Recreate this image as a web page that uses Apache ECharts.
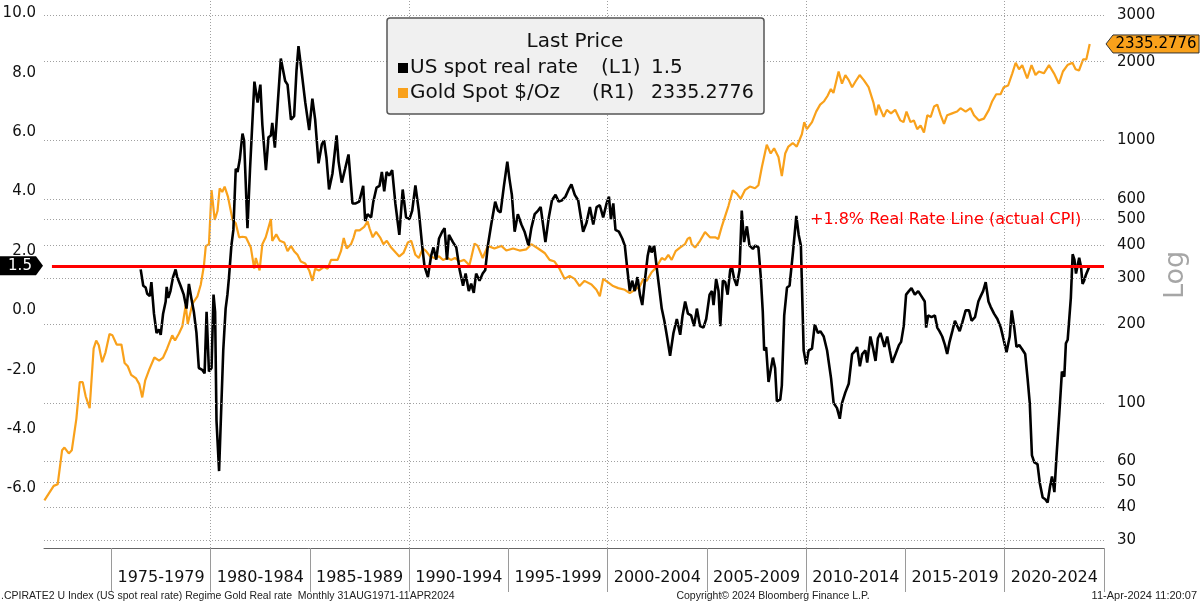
<!DOCTYPE html>
<html><head><meta charset="utf-8">
<script src="https://cdn.jsdelivr.net/npm/echarts@6/dist/echarts.min.js"></script>
<style>html,body{margin:0;padding:0;background:#fff}#c{width:1200px;height:603px}</style>
</head><body><div id="c"></div>
<script>
// Gold spot $/oz (right, log axis): [decimal year, price]
const goldData = [
[1971.62,42.5],[1972.09,48.3],[1972.29,49],[1972.51,66],[1972.63,67.6],[1972.85,64.2],[1973.0,66],[1973.23,87],[1973.4,120],[1973.55,120],[1973.7,106],[1973.9,95.5],
[1974.1,161],[1974.23,173],[1974.36,166],[1974.53,143],[1974.7,156],[1974.9,183],[1975.05,181],[1975.26,167],[1975.5,167],[1975.66,142],[1975.82,138],[1975.99,128],
[1976.24,124],[1976.4,118],[1976.55,105],[1976.7,122],[1976.9,134],[1977.16,149],[1977.4,145],[1977.6,149],[1977.8,161],[1978.06,181],[1978.2,173],[1978.4,184],
[1978.57,196],[1978.74,236],[1978.84,200],[1979.08,239],[1979.33,255],[1979.5,283],[1979.66,335],[1979.75,396],[1979.91,403],[1980.04,647],[1980.2,499],[1980.34,539],
[1980.45,658],[1980.58,637],[1980.7,668],[1980.87,610],[1981.1,499],[1981.26,484],[1981.43,428],[1981.6,430],[1981.77,428],[1982.02,391],[1982.19,325],[1982.27,357],
[1982.46,320],[1982.6,403],[1982.77,428],[1983.03,502],[1983.1,415],[1983.3,439],[1983.48,415],[1983.7,409],[1983.87,379],[1984.04,397],[1984.2,379],[1984.37,367],
[1984.54,346],[1984.76,340],[1984.96,320],[1985.12,292],[1985.26,325],[1985.46,320],[1985.71,330],[1985.89,325],[1986.06,351],[1986.39,351],[1986.56,379],[1986.7,425],
[1986.85,388],[1987.07,403],[1987.2,428],[1987.3,455],[1987.5,455],[1987.73,469],[1987.9,492],[1988.0,463],[1988.16,428],[1988.33,449],[1988.53,428],[1988.7,403],
[1988.87,415],[1989.09,391],[1989.34,373],[1989.5,362],[1989.71,373],[1989.93,409],[1990.1,415],[1990.31,367],[1990.48,357],[1990.69,388],[1990.85,379],[1991.05,362],
[1991.27,357],[1991.5,362],[1991.7,351],[1991.94,357],[1992.1,351],[1992.3,357],[1992.53,346],[1992.77,351],[1993.03,335],[1993.12,357],[1993.29,405],[1993.45,397],
[1993.7,357],[1993.96,397],[1994.29,388],[1994.64,397],[1994.89,381],[1995.23,388],[1995.56,381],[1995.9,385],[1996.15,403],[1996.49,388],[1996.82,373],[1997.07,351],
[1997.32,346],[1997.57,325],[1997.83,297],[1998.08,305],[1998.33,297],[1998.58,279],[1998.83,292],[1999.18,283],[1999.43,270],[1999.6,255],[1999.77,297],[2000.02,288],
[2000.27,279],[2000.53,274],[2000.86,270],[2001.11,262],[2001.36,270],[2001.62,279],[2001.79,297],[2001.96,292],[2002.21,315],[2002.46,330],[2002.72,357],[2002.88,351],
[2003.05,367],[2003.22,351],[2003.42,379],[2003.64,391],[2003.89,403],[2004.02,422],[2004.14,428],[2004.23,403],[2004.4,391],[2004.65,415],[2004.9,448],[2005.15,428],
[2005.41,428],[2005.57,422],[2005.74,469],[2005.91,514],[2006.08,563],[2006.3,647],[2006.5,628],[2006.7,600],[2006.91,647],[2007.16,668],[2007.42,658],[2007.59,676],
[2007.76,790],[2008.01,964],[2008.21,893],[2008.38,935],[2008.6,866],[2008.77,732],[2008.94,893],[2009.1,949],[2009.32,979],[2009.52,949],[2009.78,1057],[2009.9,1176],
[2010.03,1106],[2010.29,1176],[2010.5,1290],[2010.7,1371],[2010.9,1413],[2011.07,1479],[2011.24,1573],[2011.37,1520],[2011.63,1834],[2011.8,1648],[2011.97,1778],[2012.14,1700],
[2012.31,1598],[2012.48,1680],[2012.69,1778],[2012.9,1700],[2013.14,1598],[2013.39,1392],[2013.52,1250],[2013.64,1371],[2013.9,1231],[2014.06,1310],[2014.27,1270],[2014.48,1310],
[2014.74,1194],[2014.9,1176],[2015.05,1290],[2015.25,1176],[2015.42,1194],[2015.59,1106],[2015.76,1141],[2015.93,1073],[2016.1,1250],[2016.27,1231],[2016.44,1349],[2016.6,1371],
[2016.77,1250],[2016.94,1158],[2017.1,1250],[2017.35,1270],[2017.6,1290],[2017.77,1329],[2018.03,1290],[2018.28,1329],[2018.45,1250],[2018.7,1194],[2018.95,1213],[2019.2,1310],
[2019.37,1413],[2019.57,1502],[2019.79,1502],[2019.95,1598],[2020.17,1622],[2020.38,1805],[2020.55,1980],[2020.72,1870],[2020.88,1940],[2021.13,1725],[2021.35,1940],[2021.55,1778],
[2021.72,1834],[2021.97,1805],[2022.23,1940],[2022.48,1805],[2022.73,1648],[2022.93,1834],[2023.16,1940],[2023.41,1980],[2023.57,1870],[2023.74,1850],[2023.95,2040],[2024.11,2040],
[2024.28,2335.2776]
];
// US spot real rate (left axis): [decimal year, %]
const realRateData = [
[1976.47,1.38],[1976.6,0.83],[1976.72,0.77],[1976.8,0.56],[1976.93,0.48],[1977.01,0.95],[1977.14,-0.11],[1977.27,-0.76],[1977.39,-0.64],[1977.48,-0.82],[1977.6,-0.11],[1977.73,0.30],
[1977.78,0.79],[1977.86,0.42],[1977.97,0.65],[1978.1,1.12],[1978.23,1.38],[1978.31,1.12],[1978.48,0.83],[1978.64,0.53],[1978.78,0.06],[1978.9,0.89],[1979.02,0.42],[1979.15,-0.05],
[1979.28,-0.76],[1979.4,-1.94],[1979.57,-2.0],[1979.69,-2.12],[1979.79,-0.05],[1979.91,-2.06],[1980.04,-1.94],[1980.14,0.53],[1980.22,-0.05],[1980.29,-3.71],[1980.42,-5.41],[1980.48,-5.41],
[1980.63,-1.35],[1980.75,0.06],[1980.84,0.53],[1980.92,1.12],[1981.04,2.18],[1981.14,2.71],[1981.26,4.77],[1981.35,4.66],[1981.46,5.07],[1981.6,5.95],[1981.68,5.72],[1981.85,2.77],
[1981.98,4.77],[1982.2,7.7],[1982.36,7.0],[1982.5,7.6],[1982.6,6.25],[1982.78,4.72],[1982.91,5.83],[1983.03,5.89],[1983.1,6.31],[1983.23,5.48],[1983.37,6.9],[1983.53,8.48],
[1983.62,8.54],[1983.75,7.72],[1983.87,7.6],[1984.04,6.42],[1984.2,6.54],[1984.32,8.07],[1984.42,8.9],[1984.54,8.25],[1984.76,7.01],[1984.96,6.07],[1985.12,7.13],[1985.26,6.42],
[1985.43,4.95],[1985.6,5.6],[1985.71,5.72],[1985.83,5.13],[1985.96,4.07],[1986.13,4.6],[1986.34,5.89],[1986.44,5.01],[1986.6,4.3],[1986.77,4.77],[1986.94,5.25],[1987.14,3.6],
[1987.3,3.6],[1987.48,3.66],[1987.68,4.19],[1987.78,3.01],[1987.9,3.24],[1988.08,3.13],[1988.19,3.66],[1988.35,4.13],[1988.5,4.19],[1988.62,4.66],[1988.74,4.01],[1988.86,4.66],
[1988.99,4.54],[1989.14,4.72],[1989.3,3.6],[1989.5,2.54],[1989.67,4.07],[1989.84,3.13],[1990.01,3.07],[1990.15,3.36],[1990.31,4.21],[1990.48,3.36],[1990.65,2.18],[1990.77,1.48],
[1990.94,1.12],[1991.1,1.83],[1991.22,2.12],[1991.36,1.71],[1991.5,2.42],[1991.66,2.65],[1991.78,2.77],[1991.9,1.71],[1992.0,2.54],[1992.2,2.3],[1992.37,2.12],[1992.54,1.36],
[1992.71,0.83],[1992.84,1.24],[1993.0,0.65],[1993.12,0.9],[1993.25,0.59],[1993.37,1.24],[1993.54,1.0],[1993.7,1.24],[1993.83,1.36],[1993.96,2.18],[1994.13,2.89],[1994.33,3.66],
[1994.47,3.36],[1994.6,3.3],[1994.77,4.19],[1994.94,5.01],[1995.05,4.42],[1995.17,3.89],[1995.31,2.65],[1995.47,3.24],[1995.65,2.89],[1995.81,2.65],[1996.01,2.18],[1996.15,2.77],
[1996.32,3.24],[1996.49,3.36],[1996.62,3.48],[1996.74,2.89],[1996.86,2.3],[1997.03,3.13],[1997.19,3.71],[1997.37,3.89],[1997.53,3.66],[1997.7,3.71],[1997.87,3.83],[1998.03,4.07],
[1998.17,4.24],[1998.34,3.89],[1998.51,3.71],[1998.76,2.65],[1998.93,2.95],[1999.1,3.48],[1999.27,2.89],[1999.44,3.48],[1999.6,3.54],[1999.77,3.13],[1999.94,3.6],[2000.06,3.83],
[2000.16,3.07],[2000.28,3.6],[2000.39,2.71],[2000.56,2.65],[2000.73,2.42],[2000.86,2.18],[2000.99,1.36],[2001.11,0.65],[2001.23,1.0],[2001.36,0.65],[2001.5,1.12],[2001.62,0.53],
[2001.74,0.18],[2001.87,1.0],[2002.01,1.83],[2002.12,2.18],[2002.21,1.95],[2002.34,2.18],[2002.46,1.48],[2002.58,0.83],[2002.72,0.06],[2002.85,-0.35],[2002.97,-0.82],[2003.14,-1.53],
[2003.31,-0.76],[2003.48,-0.29],[2003.65,-0.82],[2003.77,-0.17],[2003.9,0.3],[2004.04,-0.11],[2004.2,-0.17],[2004.35,-0.53],[2004.49,0.06],[2004.65,-0.53],[2004.82,-0.58],[2004.96,-0.29],
[2005.13,0.53],[2005.25,0.65],[2005.33,0.18],[2005.46,1.06],[2005.58,0.65],[2005.67,-0.53],[2005.8,1.0],[2005.92,0.95],[2006.04,0.53],[2006.17,1.36],[2006.25,1.48],[2006.37,1.06],
[2006.5,0.83],[2006.64,1.36],[2006.75,3.36],[2006.87,2.3],[2007.01,2.83],[2007.14,2.18],[2007.31,2.07],[2007.43,2.18],[2007.59,2.12],[2007.71,1.12],[2007.81,-0.05],[2007.88,-1.35],
[2007.98,-1.24],[2008.1,-2.41],[2008.2,-2.41],[2008.32,-1.59],[2008.43,-1.94],[2008.52,-3.06],[2008.69,-3.0],[2008.77,-2.53],[2008.89,-0.17],[2009.03,0.77],[2009.16,0.83],[2009.33,1.95],
[2009.5,3.18],[2009.62,2.54],[2009.73,2.18],[2009.87,-1.35],[2010.0,-1.82],[2010.12,-1.35],[2010.29,-1.29],[2010.43,-0.47],[2010.59,-0.76],[2010.71,-0.7],[2010.88,-0.88],[2011.05,-1.35],
[2011.25,-2.29],[2011.38,-3.12],[2011.55,-3.29],[2011.69,-3.65],[2011.8,-3.12],[2011.97,-2.76],[2012.14,-2.47],[2012.31,-1.47],[2012.48,-1.35],[2012.56,-1.23],[2012.7,-1.88],[2012.82,-1.47],
[2012.98,-1.35],[2013.07,-1.76],[2013.23,-0.88],[2013.37,-1.29],[2013.49,-1.7],[2013.61,-0.94],[2013.74,-0.76],[2013.82,-0.7],[2013.94,-1.23],[2014.08,-0.88],[2014.21,-1.35],[2014.33,-1.76],
[2014.5,-1.47],[2014.67,-1.17],[2014.78,-1.06],[2014.91,-0.53],[2015.03,0.53],[2015.17,0.65],[2015.3,0.75],[2015.47,0.53],[2015.64,0.65],[2015.8,0.48],[2015.97,0.3],[2016.04,-0.58],
[2016.14,-0.17],[2016.31,-0.23],[2016.48,-0.17],[2016.6,-0.58],[2016.71,-0.7],[2016.85,-0.88],[2016.99,-1.17],[2017.1,-1.47],[2017.22,-1.06],[2017.36,-0.7],[2017.49,-0.35],[2017.61,-0.53],
[2017.73,-0.7],[2017.86,-0.41],[2018.03,0.0],[2018.2,0.0],[2018.33,-0.35],[2018.5,-0.23],[2018.67,0.3],[2018.79,0.48],[2018.91,0.65],[2019.04,0.95],[2019.18,0.3],[2019.29,0.12],
[2019.46,-0.11],[2019.63,-0.29],[2019.8,-0.58],[2019.97,-1.06],[2020.09,-1.41],[2020.18,-1.41],[2020.25,-0.88],[2020.35,0.0],[2020.48,-0.58],[2020.59,-1.23],[2020.73,-1.17],[2020.86,-1.29],
[2021.03,-1.47],[2021.15,-2.29],[2021.26,-3.12],[2021.37,-4.88],[2021.49,-5.12],[2021.65,-5.18],[2021.77,-5.83],[2021.91,-6.3],[2022.04,-6.36],[2022.16,-6.47],[2022.28,-5.94],[2022.38,-5.59],
[2022.5,-6.12],[2022.61,-4.88],[2022.75,-3.47],[2022.88,-2.06],[2023.0,-2.23],[2023.08,-1.11],[2023.17,-0.99],[2023.25,-0.94],[2023.33,0.42],[2023.42,1.89],[2023.51,1.71],[2023.59,1.24],
[2023.67,1.18],[2023.75,1.77],[2023.84,1.48],[2023.92,0.89],[2024.0,1.0],[2024.08,1.18],[2024.17,1.12],[2024.28,1.5]
];
const periodTicks = [1975,1980,1985,1990,1995,2000,2005,2010,2015,2020,2025];
const periodLabelPos = [1977.5,1982.5,1987.5,1992.5,1997.5,2002.5,2007.5,2012.5,2017.5,2022.5];
const periodLabels = ['1975-1979','1980-1984','1985-1989','1990-1994','1995-1999','2000-2004','2005-2009','2010-2014','2015-2019','2020-2024'];
const decadeLines = [1980,1990,2000,2010,2020];
const goldTicks = [30,40,50,60,100,200,300,400,500,600,1000,2000,3000];
const lastRealRate = 1.5;
const lastGold = 2335.2776;
const realRateLineLevel = 1.5;
const realRateLineStart = 1972.0;

const FONT = 'DejaVu Sans';
const GOLD = '#f9a11b';
const GRID_LINE = {color:'#a0a0a0', type:[1,2], width:1};

const chart = echarts.init(document.getElementById('c'), null, {renderer:'canvas'});
const option = {
  animation:false,
  backgroundColor:'#ffffff',
  grid:{left:44, right:96, top:0, bottom:55, containLabel:false, outerBoundsMode:'none'},
  xAxis:{
    type:'value', min:1971.6, max:2025,
    axisLine:{show:true, onZero:false, lineStyle:{color:'#666', width:1}},
    axisTick:{show:true, customValues:periodTicks, length:44, lineStyle:{color:'#9a9a9a', width:1}},
    axisLabel:{customValues:periodLabelPos, formatter:v=>periodLabels[periodLabelPos.indexOf(v)]||'',
      fontSize:16, fontFamily:FONT, color:'#111', margin:22},
    splitLine:{show:false}
  },
  yAxis:[{
    type:'value', min:-8, max:10.45, interval:2, position:'left',
    axisLine:{show:false}, axisTick:{show:false}, splitLine:{show:false},
    axisLabel:{fontSize:15, fontFamily:FONT, color:'#111', margin:8,
      formatter:v=>(Math.abs(v%2)<1e-6 && v>-7 && v<11) ? v.toFixed(1) : ''}
  },{
    type:'log', logBase:10, min:28, max:3435, position:'right',
    axisLine:{show:false}, axisTick:{show:false}, splitLine:{show:false},
    axisLabel:{customValues:goldTicks, fontSize:15, fontFamily:FONT, color:'#111', margin:13,
      formatter:v=>String(Math.round(v))}
  }],
  series:[
    {type:'line', data:[], xAxisIndex:0, yAxisIndex:1, z:1, silent:true,
      markLine:{silent:true, symbol:['none','none'], label:{show:false}, animation:false,
        lineStyle:GRID_LINE,
        data:[...decadeLines.map(v=>({xAxis:v})), ...goldTicks.map(v=>({yAxis:v}))]}},
    {name:'Gold Spot $/Oz', type:'line', data:goldData, xAxisIndex:0, yAxisIndex:1, z:3,
      showSymbol:false, symbol:'none', lineStyle:{color:GOLD, width:2.2}, itemStyle:{color:GOLD}},
    {name:'US spot real rate', type:'line', data:realRateData, xAxisIndex:0, yAxisIndex:0, z:4,
      showSymbol:false, symbol:'none', lineStyle:{color:'#000', width:2.6}, itemStyle:{color:'#000'}},
    {type:'line', data:[], xAxisIndex:0, yAxisIndex:0, z:5, silent:true,
      markLine:{silent:true, symbol:['none','none'], label:{show:false}, animation:false,
        lineStyle:{color:'#ff0000', width:3, type:'solid'},
        data:[[{coord:[realRateLineStart, realRateLineLevel]},{coord:[2025, realRateLineLevel]}]]}}
  ]
};
chart.setOption(option);

const yRate = chart.convertToPixel({yAxisIndex:0}, lastRealRate);
const yGold = chart.convertToPixel({yAxisIndex:1}, lastGold);
const yRed = chart.convertToPixel({yAxisIndex:0}, 3.05);

chart.setOption({graphic:[
  // legend box
  {type:'rect', z:100, shape:{x:387, y:18, width:377, height:96, r:3},
    style:{fill:'#f0f0f0', stroke:'#555', lineWidth:1.5}},
  {type:'text', z:101, style:{x:575, y:42, text:'Last Price', font:'20px "DejaVu Sans"', fill:'#111', align:'center', verticalAlign:'middle'}},
  {type:'rect', z:101, shape:{x:398, y:63, width:10, height:10}, style:{fill:'#000'}},
  {type:'text', z:101, style:{x:410, y:68, text:'US spot real rate', font:'20px "DejaVu Sans"', fill:'#111', verticalAlign:'middle'}},
  {type:'text', z:101, style:{x:601, y:68, text:'(L1)', font:'20px "DejaVu Sans"', fill:'#111', verticalAlign:'middle'}},
  {type:'text', z:101, style:{x:651, y:68, text:'1.5', font:'20px "DejaVu Sans"', fill:'#111', verticalAlign:'middle'}},
  {type:'rect', z:101, shape:{x:398, y:88, width:10, height:10}, style:{fill:GOLD}},
  {type:'text', z:101, style:{x:410, y:93, text:'Gold Spot $/Oz', font:'20px "DejaVu Sans"', fill:'#111', verticalAlign:'middle'}},
  {type:'text', z:101, style:{x:592, y:93, text:'(R1)', font:'20px "DejaVu Sans"', fill:'#111', verticalAlign:'middle'}},
  {type:'text', z:101, style:{x:651, y:93, text:'2335.2776', font:'19px "DejaVu Sans"', fill:'#111', verticalAlign:'middle'}},
  // red annotation
  {type:'text', z:100, style:{x:810, y:yRed, text:'+1.8% Real Rate Line (actual CPI)', font:'16px "DejaVu Sans"', fill:'#ff0000', verticalAlign:'middle'}},
  // left tag
  {type:'polygon', z:100, shape:{points:[[0,yRate-9.5],[36,yRate-9.5],[43,yRate],[36,yRate+9.5],[0,yRate+9.5]]}, style:{fill:'#000'}},
  {type:'text', z:101, style:{x:20, y:yRate, text:'1.5', font:'15px "DejaVu Sans"', fill:'#fff', align:'center', verticalAlign:'middle'}},
  // right tag
  {type:'polygon', z:100, shape:{points:[[1106,yGold],[1113,yGold-9],[1199,yGold-9],[1199,yGold+9],[1113,yGold+9]]}, style:{fill:GOLD, stroke:'#333', lineWidth:1}},
  {type:'text', z:101, style:{x:1156, y:yGold, text:'2335.2776', font:'15px "DejaVu Sans"', fill:'#000', align:'center', verticalAlign:'middle'}},
  // Log label
  {type:'text', z:100, x:1176, y:275, rotation:Math.PI/2, style:{x:0, y:0, text:'Log', font:'27px "DejaVu Sans"', fill:'#a6a6a6', align:'center', verticalAlign:'middle'}},
  // footer
  {type:'text', z:100, style:{x:1, y:596, text:'.CPIRATE2 U Index (US spot real rate) Regime Gold Real rate  Monthly 31AUG1971-11APR2024', font:'10.5px "Liberation Sans"', fill:'#222', verticalAlign:'middle'}},
  {type:'text', z:100, style:{x:773, y:596, text:'Copyright\u00a9 2024 Bloomberg Finance L.P.', font:'10.5px "Liberation Sans"', fill:'#222', align:'center', verticalAlign:'middle'}},
  {type:'text', z:100, style:{x:1197, y:596, text:'11-Apr-2024 11:20:07', font:'11px "Liberation Sans"', fill:'#222', align:'right', verticalAlign:'middle'}}
]});
</script></body></html>
